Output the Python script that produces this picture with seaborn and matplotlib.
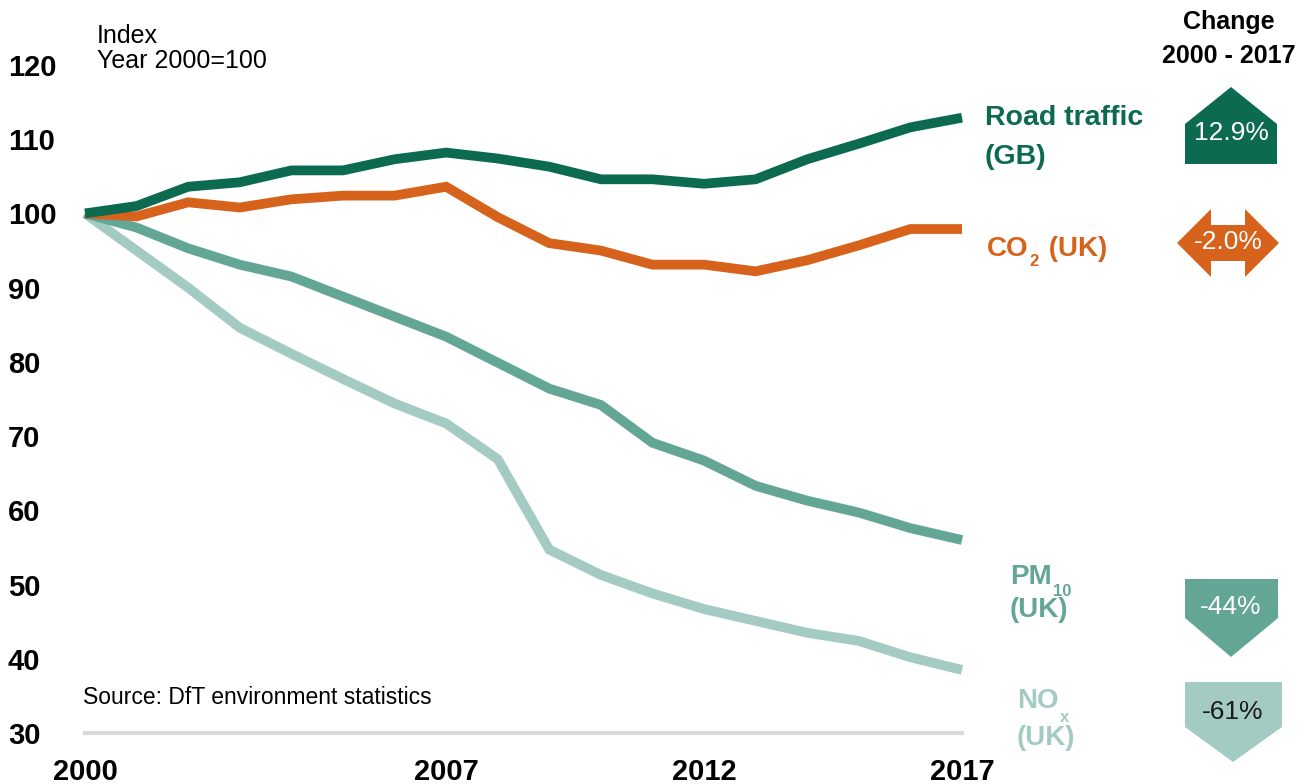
# Recreation of the DfT road traffic vs emissions index chart
import pandas as pd
import matplotlib.pyplot as plt
from matplotlib.patches import Polygon
import seaborn as sns

# Data (index, year 2000 = 100)
years = list(range(2000, 2018))
road_traffic = [100, 101.0, 103.6, 104.2, 105.8, 105.8, 107.3, 108.2, 107.4, 106.3,
                104.6, 104.6, 104.0, 104.6, 107.3, 109.4, 111.6, 112.9]
co2 = [100, 99.6, 101.5, 100.8, 101.9, 102.4, 102.4, 103.6, 99.5, 96.0,
       95.0, 93.1, 93.1, 92.2, 93.7, 95.7, 97.9, 97.9]
pm10 = [100, 98.1, 95.3, 93.1, 91.5, 88.8, 86.1, 83.4, 79.9, 76.4,
        74.2, 69.1, 66.7, 63.3, 61.3, 59.7, 57.6, 56.0]
nox = [100, 95.0, 90.0, 84.6, 81.1, 77.7, 74.4, 71.7, 66.9, 54.7,
       51.3, 48.8, 46.7, 45.1, 43.5, 42.4, 40.2, 38.5]

series_names = ["NOx", "PM10", "CO2", "Road traffic"]
series_values = [nox, pm10, co2, road_traffic]
colours = {"Road traffic": "#0b6a50", "CO2": "#d6621b", "PM10": "#64a695", "NOx": "#a4cbc3"}
changes = ["12.9%", "-2.0%", "-44%", "-61%"]
x_ticks = [2000, 2007, 2012, 2017]
y_ticks = list(range(30, 121, 10))

df = pd.concat(
    [pd.DataFrame({"Year": years, "Index": vals, "Series": name})
     for name, vals in zip(series_names, series_values)],
    ignore_index=True,
)

sns.set_style("white")
plt.rcParams["font.family"] = ["Liberation Sans", "DejaVu Sans"]
plt.rcParams["text.color"] = "black"
plt.rcParams["xtick.color"] = "black"
plt.rcParams["ytick.color"] = "black"

W, H = 1311, 784
fig = plt.figure(figsize=(W / 100, H / 100), dpi=100)
ax = fig.add_axes([85 / W, 51 / H, (962 - 85) / W, (733 - 65) / H])

sns.lineplot(data=df, x="Year", y="Index", hue="Series", palette=colours,
             linewidth=7, legend=False, ax=ax)
for line in ax.lines:
    line.set_clip_on(False)
    line.set_solid_capstyle("butt")
    line.set_solid_joinstyle("miter")

ax.set_xlim(2000, 2017)
ax.set_ylim(30, 120)
ax.set_xticks(x_ticks)
ax.set_yticks(y_ticks)
ax.set_xlabel("")
ax.set_ylabel("")
for side in ["top", "right", "left"]:
    ax.spines[side].set_visible(False)
ax.spines["bottom"].set_color("#d9d9d9")
ax.spines["bottom"].set_linewidth(3)
ax.tick_params(axis="both", length=0, labelsize=21)
ax.tick_params(axis="y", pad=55.5)
ax.tick_params(axis="x", pad=18)
for lbl in ax.get_yticklabels():
    lbl.set_horizontalalignment("left")
    lbl.set_fontweight("bold")
for lbl in ax.get_xticklabels():
    lbl.set_fontweight("bold")

# Overlay in pixel coordinates for annotations and change arrows
ov = fig.add_axes([0, 0, 1, 1], facecolor="none")
ov.set_xlim(0, W)
ov.set_ylim(H, 0)
ov.axis("off")
renderer = fig.canvas.get_renderer()


def label_with_sub(x, y, main, sub, rest, colour, sub_dy=12):
    # main text, then a small lowered subscript, then the rest of the label
    t = ov.text(x, y, main, fontsize=20, fontweight="bold", color=colour, va="center")
    bb = t.get_window_extent(renderer=renderer)
    s = ov.text(bb.x1 + 1, y + sub_dy, sub, fontsize=12, fontweight="bold", color=colour, va="center")
    if rest:
        bb2 = s.get_window_extent(renderer=renderer)
        ov.text(bb2.x1 + 2, y, rest, fontsize=20, fontweight="bold", color=colour, va="center")


ov.text(97, 36, "Index", fontsize=18, va="center")
ov.text(97, 61, "Year 2000=100", fontsize=18, va="center")
ov.text(83, 697, "Source: DfT environment statistics", fontsize=16.5, va="center")

ov.text(985, 118, "Road traffic", fontsize=20.5, fontweight="bold", color=colours["Road traffic"], va="center")
ov.text(985, 157, "(GB)", fontsize=20.5, fontweight="bold", color=colours["Road traffic"], va="center")
label_with_sub(987, 249, "CO", "2", " (UK)", colours["CO2"], sub_dy=12)
label_with_sub(1010, 577, "PM", "10", "", colours["PM10"], sub_dy=14)
ov.text(1010, 610, "(UK)", fontsize=20, fontweight="bold", color=colours["PM10"], va="center")
label_with_sub(1017, 701, "NO", "x", "", colours["NOx"], sub_dy=16)
ov.text(1017, 738, "(UK)", fontsize=20, fontweight="bold", color=colours["NOx"], va="center")

ov.text(1229, 22, "Change", fontsize=18, fontweight="bold", ha="center", va="center")
ov.text(1229, 56, "2000 - 2017", fontsize=18, fontweight="bold", ha="center", va="center")

shapes = [
    ([(1185, 164), (1185, 124), (1231, 87), (1277, 124), (1277, 164)], colours["Road traffic"], (1231, 133), "white"),
    ([(1177, 243), (1211, 209), (1211, 225), (1245, 225), (1245, 209), (1279, 243),
      (1245, 277), (1245, 261), (1211, 261), (1211, 277)], colours["CO2"], (1228, 242), "white"),
    ([(1185, 579), (1278, 579), (1278, 618), (1231, 657), (1185, 618)], colours["PM10"], (1231, 607), "white"),
    ([(1185, 682), (1282, 682), (1282, 727), (1233, 762), (1185, 727)], colours["NOx"], (1233, 712), "#1a1a1a"),
]
for (pts, col, pos, tcol), txt in zip(shapes, changes):
    ov.add_patch(Polygon(pts, closed=True, facecolor=col, edgecolor="none"))
    ov.text(pos[0], pos[1], txt, fontsize=19, color=tcol, ha="center", va="center")

fig.savefig("out.png", dpi=100)
